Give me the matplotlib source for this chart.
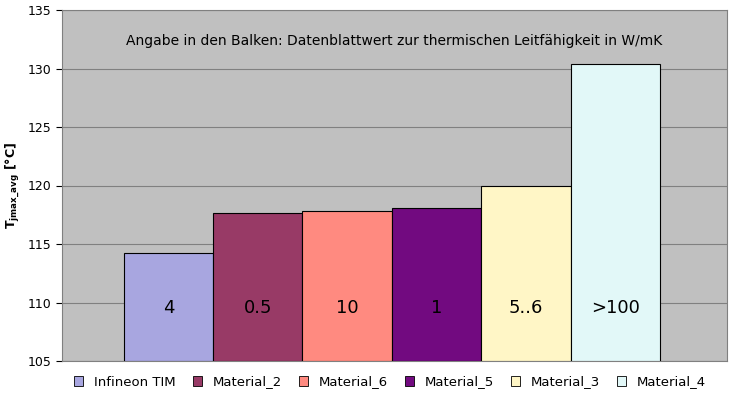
import matplotlib
matplotlib.use("Agg")
import matplotlib.pyplot as plt
from matplotlib.patches import Patch

# Daten
materials = ["Infineon TIM", "Material_2", "Material_6", "Material_5", "Material_3", "Material_4"]
tj_values = [114.25, 117.65, 117.8, 118.05, 119.95, 130.4]
bar_labels = ["4", "0.5", "10", "1", "5..6", ">100"]
bar_colors = ["#a8a6e0", "#983a66", "#ff8a80", "#720a80", "#fff6c6", "#e2f8f8"]
y_ticks = [105, 110, 115, 120, 125, 130, 135]

fig = plt.figure(figsize=(7.29, 4.0), dpi=100)
ax = fig.add_axes([62 / 729, 1 - 361 / 400, 665 / 729, 351 / 400])
ax.set_facecolor("#c0c0c0")

x = list(range(len(materials)))
ax.bar(x, [v - 105 for v in tj_values], bottom=105, width=1.0,
       color=bar_colors, edgecolor="black", linewidth=0.8, zorder=3)
for xi, lab in zip(x, bar_labels):
    ax.text(xi, 109.5, lab, ha="center", va="center", fontsize=13, zorder=4)

ax.set_ylim(105, 135)
ax.set_xlim(-1.19, 6.25)
ax.set_yticks(y_ticks)
ax.set_xticks([])
ax.tick_params(axis="y", labelsize=9, length=4)
ax.yaxis.grid(True, color="#808080", linewidth=0.8, zorder=0)
for s in ax.spines.values():
    s.set_color("#808080")
ax.set_ylabel(r"T$_{\mathbf{jmax\_avg}}$ [°C]", fontsize=9, fontweight="bold")

ax.text(0.5, 0.913, "Angabe in den Balken: Datenblattwert zur thermischen Leitfähigkeit in W/mK",
        transform=ax.transAxes, ha="center", va="center", fontsize=10)

handles = [Patch(facecolor=c, edgecolor="black", linewidth=0.6) for c in bar_colors]
fig.legend(handles, materials, loc="center", bbox_to_anchor=(0.535, 0.045), ncol=6,
           frameon=False, fontsize=9.5, handlelength=0.7, handleheight=0.7,
           columnspacing=1.3, handletextpad=0.8, borderaxespad=0.1)

fig.savefig("out.png", dpi=100)
